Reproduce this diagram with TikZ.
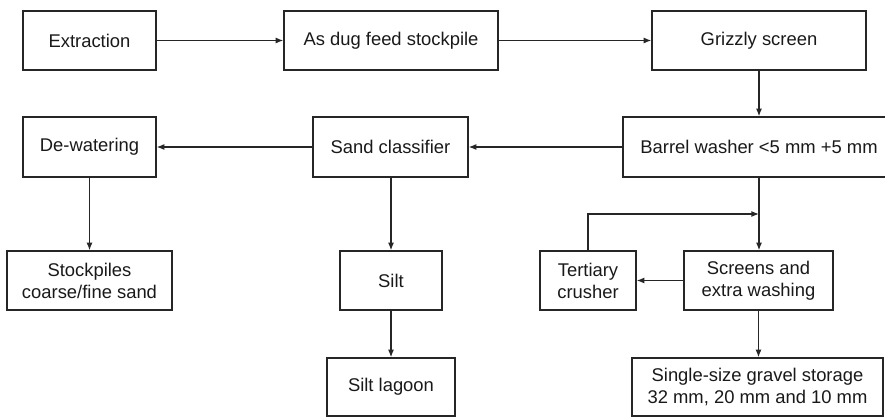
\documentclass[tikz,border=0pt]{standalone}
\usepackage{fontspec}
\setmainfont{Liberation Sans}
\usepackage{tikz}
\usetikzlibrary{arrows.meta}

\begin{document}
\begin{tikzpicture}[
  x=0.5pt, y=-0.5pt,
  box/.style={rectangle, draw=black!85, line width=0.7pt, minimum height=29.5pt, align=center,
    inner sep=0pt, font=\fontsize{9.2}{11}\selectfont, text=black!90},
  arr/.style={-{Latex[length=3.8pt,width=3pt]}, line width=0.65pt, draw=black!85}
]
\useasboundingbox (0,0) rectangle (885,417);

% Feed line
\node[box, minimum width=66.5pt] (extr) at (89.5,40.5) {Extraction};
\node[box, minimum width=107pt] (feed) at (391,40.5) {As dug feed stockpile};
\node[box, minimum width=107pt] (grizzly) at (759,40.5) {Grizzly screen};

% Washing and classifying
\node[box, minimum width=136pt, minimum height=30pt] (barrel) at (759,147) {Barrel washer <5 mm +5 mm};
\node[box, minimum width=77.5pt, minimum height=30pt] (sand) at (390.5,147) {Sand classifier};
\node[box, minimum width=66.5pt, minimum height=30pt] (dewater) at (89.5,147) {De-watering};

% Products
\node[box, minimum width=82.5pt] (sandpile) at (89.5,280.5) {Stockpiles\\coarse/fine sand};
\node[box, minimum width=51pt] (silt) at (391,280.5) {Silt};
\node[box, minimum width=48pt] (tert) at (588,280.5) {Tertiary\\crusher};
\node[box, minimum width=74.5pt] (screens) at (758.5,280.5) {Screens and\\extra washing};
\node[box, minimum width=64pt, minimum height=29pt] (lagoon) at (391,387) {Silt lagoon};
\node[box, minimum width=125.5pt, minimum height=29pt] (gravel) at (757.5,387) {Single-size gravel storage\\32 mm, 20 mm and 10 mm};

% Return from crusher
\coordinate (join) at (759,214);

% Arrows
\draw[arr] (extr) -- (feed);
\draw[arr] (feed) -- (grizzly);
\draw[arr] (grizzly) -- (barrel);
\draw[arr] (barrel) -- (sand);
\draw[arr] (sand) -- (dewater);
\draw[arr] (dewater) -- (sandpile);
\draw[arr] (sand.south -| silt) -- (silt);
\draw[arr] (silt) -- (lagoon);
\draw[arr] (barrel.south) -- (barrel.south |- screens.north);
\draw[arr] (screens) -- (tert);
\draw[arr] (tert.north) |- (join);
\draw[arr] (screens.south) -- (screens.south |- gravel.north);

\end{tikzpicture}
\end{document}
